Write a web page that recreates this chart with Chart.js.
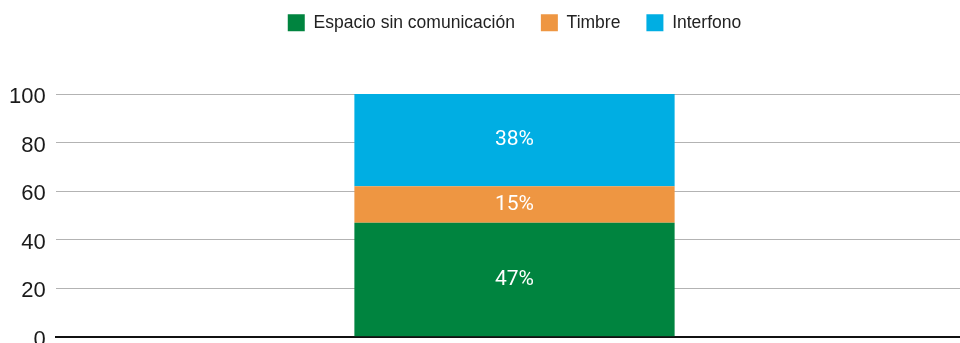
<!DOCTYPE html>
<html>
<head>
<meta charset="utf-8">
<title>Comunicación</title>
<script src="https://cdn.jsdelivr.net/npm/chart.js@4.4.1/dist/chart.umd.min.js"></script>
<style>
    html, body { margin: 0; padding: 0; background: #fff; overflow: hidden; }
    canvas { display: block; }
</style>
</head>
<body>
<canvas id="barChart" width="1029" height="360"></canvas>
<script>
// Data
const categories = [""];
const seriesNames = ["Espacio sin comunicación", "Timbre", "Interfono"];
const sinComunicacion = [47];
const timbre = [15];
const interfono = [38];
const yTicks = [0, 20, 40, 60, 80, 100];

// Percent labels centred inside each stacked segment
const segmentLabels = {
    id: "segmentLabels",
    afterDatasetsDraw(chart) {
        const ctx = chart.ctx;
        ctx.save();
        ctx.font = "21px Roboto";
        ctx.fillStyle = "#ffffff";
        ctx.textAlign = "center";
        ctx.textBaseline = "middle";
        chart.data.datasets.forEach((ds, i) => {
            chart.getDatasetMeta(i).data.forEach((bar, j) => {
                const p = bar.getProps(["x", "y", "base"], true);
                ctx.fillText(ds.data[j] + "%", p.x, (p.y + p.base) / 2);
            });
        });
        ctx.restore();
    }
};

// Leave a fixed band above the plot for the legend
const legendSpace = {
    id: "legendSpace",
    beforeLayout(chart) {
        const legend = chart.legend;
        if (!legend || legend._spaced) return;
        const fit = legend.fit;
        legend.fit = function () {
            fit.call(this);
            this.height = 106;
        };
        legend._spaced = true;
    }
};

const axisFont = { family: "'Liberation Sans', Arial, sans-serif", size: 22 };

const ctx = document.getElementById("barChart").getContext("2d");
const barChart = new Chart(ctx, {
    type: "bar",
    data: {
        labels: categories,
        datasets: [
            { label: seriesNames[0], data: sinComunicacion, backgroundColor: "#00843f" },
            { label: seriesNames[1], data: timbre, backgroundColor: "#ee9642" },
            { label: seriesNames[2], data: interfono, backgroundColor: "#00aee3" }
        ]
    },
    options: {
        responsive: false,
        animation: false,
        layout: { padding: { top: -12, left: -1, right: -1, bottom: 23 } },
        datasets: {
            bar: { barPercentage: 0.349, categoryPercentage: 1, borderWidth: 0 }
        },
        plugins: {
            legend: {
                display: true,
                position: "top",
                labels: {
                    boxWidth: 17,
                    boxHeight: 17,
                    padding: 26,
                    color: "#222",
                    font: { family: "'Liberation Sans', Arial, sans-serif", size: 17.5 }
                }
            },
            tooltip: { enabled: false }
        },
        scales: {
            x: {
                stacked: true,
                z: 1,
                ticks: { display: false },
                grid: { display: false, drawTicks: false },
                border: { display: true, color: "#111", width: 2 }
            },
            y: {
                stacked: true,
                min: 0,
                max: 100,
                afterBuildTicks: (axis) => { axis.ticks = yTicks.map(v => ({ value: v })); },
                ticks: {
                    padding: 10,
                    labelOffset: 3,
                    color: "#1a1a1a",
                    font: axisFont
                },
                grid: {
                    drawTicks: false,
                    color: (c) => c.tick && c.tick.value === 0 ? "#111" : "#b3b3b3",
                    lineWidth: 1
                },
                border: { display: false }
            },
            // blank mirror axis so the plot sits centred on the canvas
            yRight: {
                position: "right",
                min: 0,
                max: 100,
                afterBuildTicks: (axis) => { axis.ticks = yTicks.map(v => ({ value: v })); },
                ticks: { padding: 10, color: "rgba(0,0,0,0)", font: axisFont },
                grid: { display: false, drawTicks: false },
                border: { display: false }
            }
        }
    },
    plugins: [segmentLabels, legendSpace]
});
</script>
</body>
</html>
